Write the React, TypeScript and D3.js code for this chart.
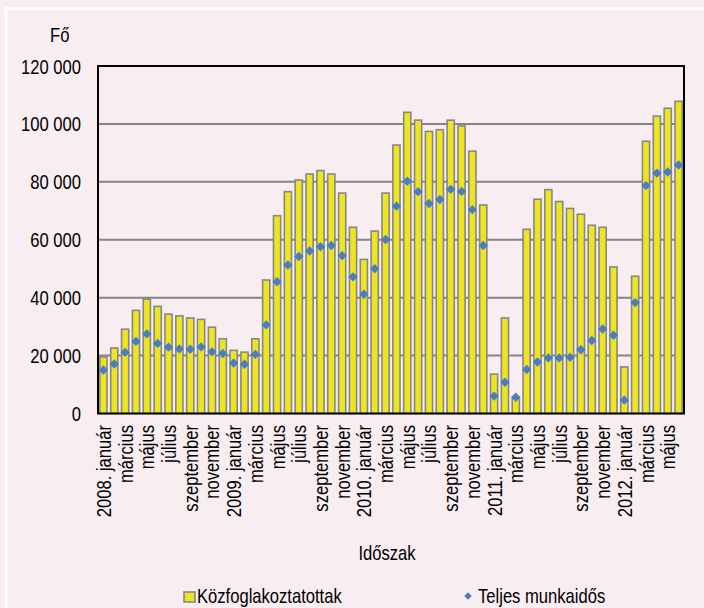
import React from "react";
import * as d3 from "d3";

const years = ["2008", "2009", "2010", "2011", "2012"];
const monthNames = ["január", "február", "március", "április", "május", "június", "július", "augusztus", "szeptember", "október", "november", "december"];

// 2008 Jan .. 2012 Jun
const categories: string[] = [];
years.forEach((y) => {
  const n = y === "2012" ? 6 : 12;
  for (let m = 0; m < n; m++) categories.push(`${y}-${m + 1}`);
});

const kozfoglalkoztatottak = [
  19500, 22600, 29100, 35600, 39500, 37000, 34300, 33700, 33000, 32500, 29800, 25800,
  21800, 21200, 25800, 46100, 68300, 76600, 80600, 82700, 83900, 82700, 76100, 64300,
  53200, 63000, 76100, 92700, 104000, 101300, 97400, 98000, 101300, 99300, 90600, 72000,
  13600, 33000, 5500, 63600, 74000, 77300, 73200, 70800, 68800, 65000, 64300, 50600,
  16100, 47400, 94000, 102700, 105400, 107800,
];

const teljesMunkaidos = [
  15000, 17100, 21100, 24900, 27500, 24200, 22900, 22300, 22200, 23000, 21300, 20700,
  17400, 17000, 20400, 30600, 45500, 51300, 54200, 56100, 57600, 58000, 54500, 47200,
  41200, 50000, 60100, 71600, 80200, 76600, 72500, 73900, 77400, 76700, 70400, 58000,
  6000, 10800, 5600, 15200, 17800, 19200, 19200, 19400, 22000, 25200, 29200, 27000,
  4600, 38300, 78700, 83000, 83400, 85800,
];

const yTicks = [0, 20000, 40000, 60000, 80000, 100000, 120000];

const W = 704;
const H = 608;
const margin = { left: 98, right: 684, top: 66, bottom: 413.5 };
const FONT = "'Liberation Sans', Arial, sans-serif";
const FS = 20;
const SX = 0.83;

function tickLabel(cat: string): string | null {
  const [y, mStr] = cat.split("-");
  const m = +mStr - 1;
  if (m % 2 !== 0) return null;
  if (m === 0) return `${y}. ${monthNames[0]}`;
  return monthNames[m];
}

function fmt(v: number): string {
  if (v === 0) return "0";
  const s = String(v);
  return s.slice(0, s.length - 3) + "\u00a0" + s.slice(-3);
}

function T({ x, y, rotate = 0, anchor = "start", children }: { x: number; y: number; rotate?: number; anchor?: string; children: React.ReactNode }) {
  return (
    <g transform={`translate(${x},${y}) rotate(${rotate}) scale(${SX},1)`}>
      <text x={0} y={0} textAnchor={anchor as any} fontSize={FS} fill="#000">
        {children}
      </text>
    </g>
  );
}

export default function App() {
  const x = d3.scaleBand<string>().domain(categories).range([margin.left, margin.right]).paddingInner(0.34).paddingOuter(0.17);
  const y = d3.scaleLinear().domain([0, 120000]).range([margin.bottom, margin.top]);
  const bw = x.bandwidth();
  const marker = d3.symbol().type(d3.symbolSquare).size(44)() as string;

  return (
    <svg width={W} height={H} style={{ position: "absolute", left: 0, top: 0 }} fontFamily={FONT}>
      <rect x={0} y={0} width={W} height={H} fill="#f8edf1" />
      <rect x={6} y={8.5} width={W + 20} height={H + 20} fill="none" stroke="#ffffff" strokeWidth={3} />

      {/* gridlines */}
      {yTicks.slice(1, -1).map((t) => (
        <line key={t} x1={margin.left} x2={margin.right} y1={y(t)} y2={y(t)} stroke="#858585" strokeWidth={2} />
      ))}

      {/* bars */}
      {kozfoglalkoztatottak.map((v, i) => (
        <rect
          key={i}
          x={x(categories[i]) as number}
          y={y(v)}
          width={bw}
          height={y(0) - y(v)}
          fill="#ece51f"
          stroke="#878787"
          strokeWidth={1.6}
        />
      ))}

      {/* frame */}
      <rect x={margin.left} y={margin.top} width={margin.right - margin.left} height={margin.bottom - margin.top} fill="none" stroke="#000" strokeWidth={2} />

      {/* markers */}
      {teljesMunkaidos.map((v, i) => (
        <path
          key={i}
          d={marker}
          transform={`translate(${(x(categories[i]) as number) + bw / 2},${y(v)}) rotate(45)`}
          fill="#4a7ebf"
        />
      ))}

      {/* y tick labels */}
      {yTicks.map((t) => (
        <T key={t} x={81} y={y(t) + 7.5} anchor="end">
          {fmt(t)}
        </T>
      ))}
      <T x={50} y={42}>Fő</T>

      {/* x tick labels */}
      {categories.map((c) => {
        const lbl = tickLabel(c);
        if (!lbl) return null;
        const cx = (x(c) as number) + bw / 2 + 7.5;
        return (
          <T key={c} x={cx} y={425} rotate={-90} anchor="end">
            {lbl}
          </T>
        );
      })}

      <T x={387} y={560} anchor="middle">Időszak</T>

      {/* legend */}
      <rect x={184} y={592} width={11} height={10} fill="#ece51f" stroke="#878787" strokeWidth={1.6} />
      <T x={197} y={603}>Közfoglakoztatottak</T>
      <path d={marker} transform={`translate(468,596) rotate(45) scale(0.8)`} fill="#4a7ebf" />
      <T x={478} y={603}>Teljes munkaidős</T>
    </svg>
  );
}
